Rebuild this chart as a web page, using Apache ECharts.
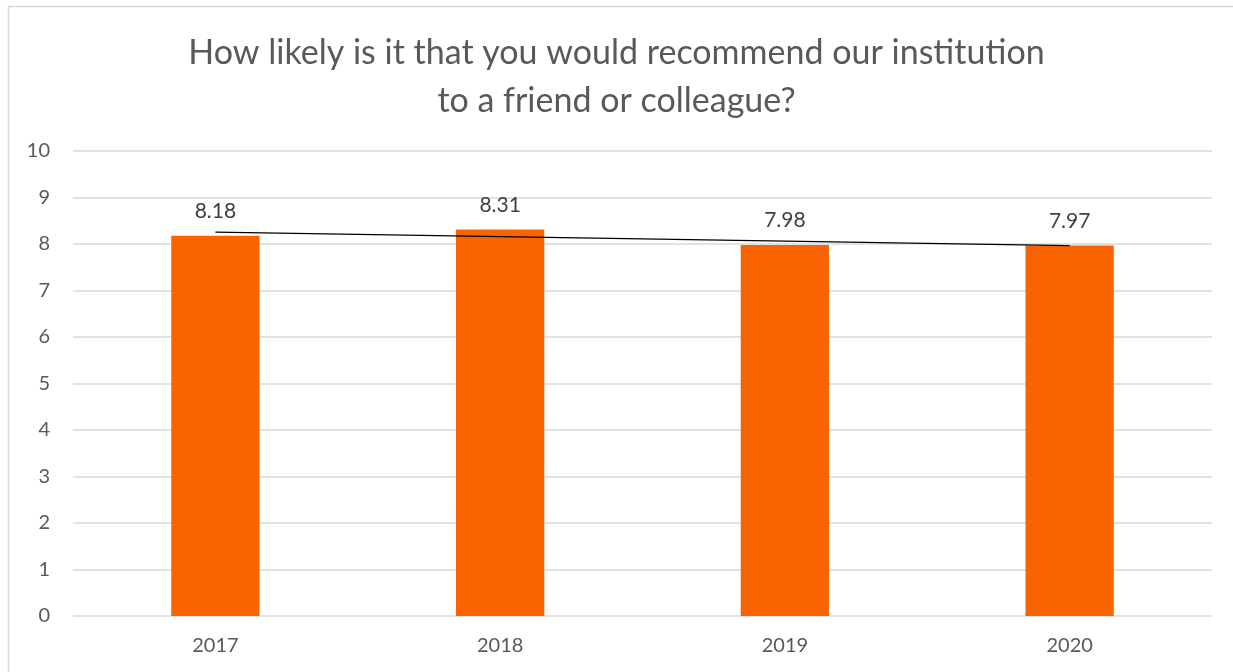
<!DOCTYPE html>
<html>
<head>
<meta charset="utf-8">
<script src="https://cdn.jsdelivr.net/npm/echarts@6/dist/echarts.min.js"></script>
<style>
html,body{margin:0;padding:0;background:#fff;}
#c{width:1233px;height:672px;}
</style>
</head>
<body>
<div id="c"></div>
<script>
const titleText = 'How likely is it that you would recommend our institution\nto a friend or colleague?';
const categories = ['2017', '2018', '2019', '2020'];
const scores = [8.18, 8.31, 7.98, 7.97];
const yTicks = [0, 1, 2, 3, 4, 5, 6, 7, 8, 9, 10];

// Linear trendline (least squares) as in the original spreadsheet chart
const n = scores.length;
const xs = scores.map((_, i) => i + 1);
const mx = xs.reduce((a, b) => a + b, 0) / n;
const my = scores.reduce((a, b) => a + b, 0) / n;
let sxy = 0, sxx = 0;
for (let i = 0; i < n; i++) { sxy += (xs[i] - mx) * (scores[i] - my); sxx += (xs[i] - mx) ** 2; }
const slope = sxy / sxx;
const trend = xs.map(x => my + slope * (x - mx));

const font = 'Lato, "Open Sans", sans-serif';
const chart = echarts.init(document.getElementById('c'));
chart.setOption({
  animation: false,
  backgroundColor: '#fff',
  graphic: [{
    type: 'rect',
    shape: { x: 8.5, y: 6.5, width: 1240, height: 700 },
    style: { fill: 'none', stroke: '#d9d9d9', lineWidth: 1.5 },
    silent: true
  }],
  title: {
    text: titleText,
    left: 'center',
    top: 24,
    textStyle: { fontFamily: font, fontSize: 34, fontWeight: 'normal', color: '#595959', lineHeight: 48 }
  },
  grid: { left: 73, right: 21, top: 151, bottom: 56, containLabel: false },
  xAxis: {
    type: 'category',
    data: categories,
    axisLine: { show: false },
    axisTick: { show: false },
    axisLabel: { color: '#595959', fontSize: 20, fontFamily: font, margin: 20 }
  },
  yAxis: {
    type: 'value',
    min: yTicks[0],
    max: yTicks[yTicks.length - 1],
    interval: 1,
    axisLine: { show: false },
    axisTick: { show: false },
    axisLabel: { color: '#595959', fontSize: 20, fontFamily: font, margin: 23 },
    splitLine: { lineStyle: { color: '#d9d9d9', width: 1.5 } }
  },
  series: [{
    type: 'bar',
    data: scores,
    barWidth: '31%',
    itemStyle: { color: '#FA6400' },
    label: {
      show: true,
      position: 'top',
      distance: 14,
      color: '#404040',
      fontSize: 21,
      fontFamily: font,
      formatter: p => p.value.toFixed(2)
    }
  }, {
    type: 'line',
    data: trend,
    symbol: 'none',
    lineStyle: { color: '#000', width: 1.2 },
    z: 5
  }]
});
</script>
</body>
</html>
